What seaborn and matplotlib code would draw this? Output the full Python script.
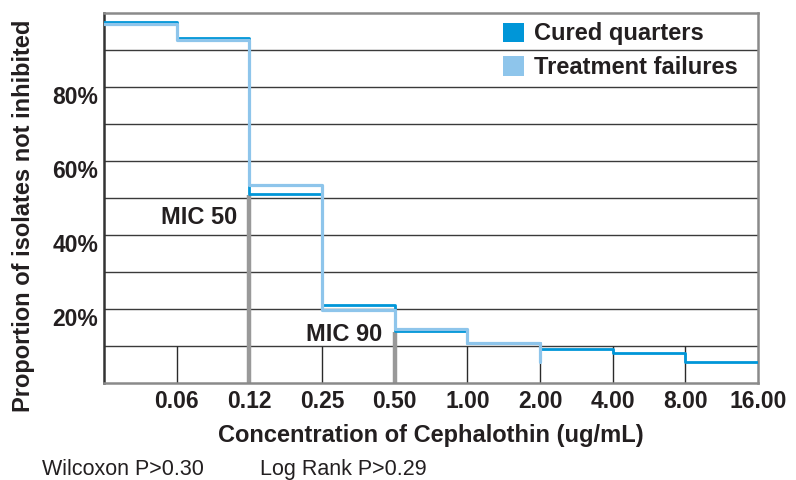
import numpy as np
import pandas as pd
import matplotlib
matplotlib.use("Agg")
import matplotlib.pyplot as plt
import matplotlib.transforms as mtransforms
import seaborn as sns
from matplotlib.patches import Patch

# MIC breakpoints on the x axis (ug/mL)
conc_labels = ["0.06", "0.12", "0.25", "0.50", "1.00", "2.00", "4.00", "8.00", "16.00"]
# proportion (%) of isolates not inhibited, one value per concentration step
cured = [97.5, 93.3, 51.2, 21.2, 14.1, 10.9, 9.2, 8.0, 5.7]
# treatment failures end at 2.00 (last value is the drop at that step)
failures = [97.0, 92.7, 53.5, 19.8, 14.6, 10.9, 5.8]
y_ticks = [20, 40, 60, 80]
mic_marks = [("MIC 50", "0.12", 44.7), ("MIC 90", "0.50", 13.0)]

DARK = "#0096d8"
LIGHT = "#8ec5eb"
TEXT = "#231f20"

sns.set_theme(style="white")
plt.rcParams["font.family"] = ["Liberation Sans", "DejaVu Sans"]

cured_df = pd.DataFrame({"x": np.arange(len(cured) + 1), "y": cured + [cured[-1]]})
fail_df = pd.DataFrame({"x": np.arange(len(failures)), "y": failures})

fig = plt.figure(figsize=(7.96, 4.8), dpi=100)
ax = fig.add_axes([0.1307, 0.202, 0.8216, 0.771])

# horizontal rules every 10%
for v in range(10, 100, 10):
    ax.axhline(v, color="#3a3a3a", lw=1.0, zorder=1)
# short dividers in the bottom band
ax.vlines(np.arange(1, len(conc_labels)), 0, 10, color="#2a2a2a", lw=1.0, zorder=1)

# MIC markers
for name, lab, ty in mic_marks:
    pos = conc_labels.index(lab) + 1
    ax.vlines(pos, 0, cured[pos] - 0.4, color="#999999", lw=3.2, zorder=2)
    ax.text(pos - 0.17, ty, name, ha="right", va="center", fontsize=17,
            fontweight="bold", color=TEXT, zorder=5)

sns.lineplot(data=cured_df, x="x", y="y", drawstyle="steps-post", color=DARK,
             lw=2.0, estimator=None, ax=ax, zorder=3)
sns.lineplot(data=fail_df, x="x", y="y", drawstyle="steps-post", color=LIGHT,
             lw=2.3, estimator=None, ax=ax, zorder=4)

ax.set_xlim(0, len(conc_labels))
ax.set_ylim(0, 100)
ax.set_xticks(np.arange(1, len(conc_labels) + 1))
ax.set_xticklabels(conc_labels, fontsize=16.5, fontweight="bold", color=TEXT)
ax.set_yticks(y_ticks)
ax.set_yticklabels([f"{v}%" for v in y_ticks], fontsize=16.5, fontweight="bold", color=TEXT)
ax.tick_params(axis="x", length=0, pad=5)
ax.tick_params(axis="y", length=0, pad=4)
# y labels sit a little below their rules in the original
shift = mtransforms.ScaledTranslation(0, -8 / 100, fig.dpi_scale_trans)
for lbl in ax.get_yticklabels():
    lbl.set_transform(lbl.get_transform() + shift)

ax.set_xlabel("Concentration of Cephalothin (ug/mL)", fontsize=17,
              fontweight="bold", color=TEXT)
ax.set_ylabel("Proportion of isolates not inhibited", fontsize=17,
              fontweight="bold", color=TEXT)
ax.xaxis.set_label_coords(0.5, -0.11)
ax.yaxis.set_label_coords(-0.106, 0.453)

for side, sp in ax.spines.items():
    sp.set_visible(True)
    sp.set_linewidth(1.8)
    sp.set_color("#333333" if side == "left" else "#8a8a8a")

handles = [Patch(facecolor=DARK, edgecolor="none", label="Cured quarters"),
           Patch(facecolor=LIGHT, edgecolor="none", label="Treatment failures")]
leg = ax.legend(handles=handles, loc="upper left", bbox_to_anchor=(0.585, 1.019),
                frameon=False, handlelength=0.9, handleheight=0.9,
                handletextpad=0.4, labelspacing=0.45, borderaxespad=0.3,
                prop={"size": 17, "weight": "bold"})
for t in leg.get_texts():
    t.set_color(TEXT)

fig.text(0.053, 0.01, "Wilcoxon P>0.30", fontsize=15.5, color=TEXT)
fig.text(0.327, 0.01, "Log Rank P>0.29", fontsize=15.5, color=TEXT)

fig.savefig("out.png", dpi=100)
